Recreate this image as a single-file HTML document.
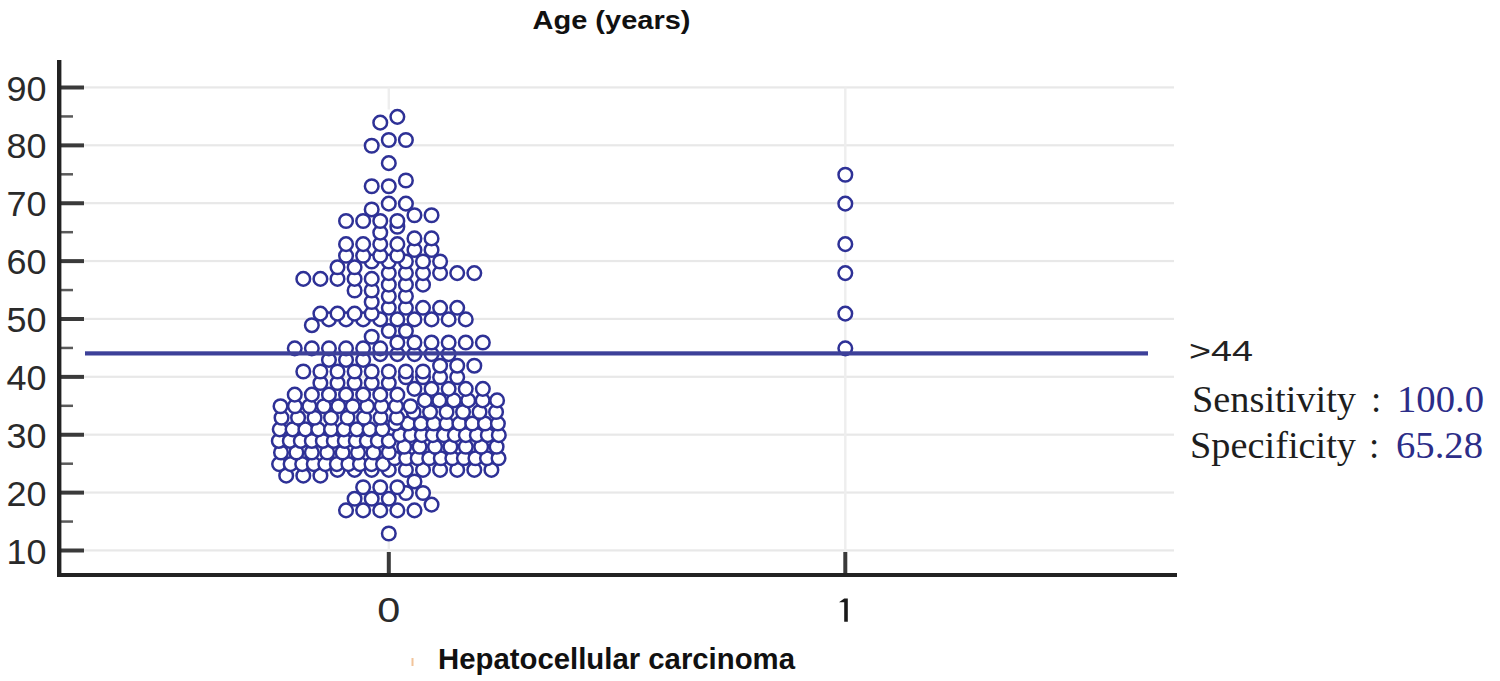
<!DOCTYPE html>
<html><head><meta charset="utf-8"><style>
html,body{margin:0;padding:0;background:#fff;}
body{width:1500px;height:681px;overflow:hidden;}
svg{display:block;}
#wrap{width:1500px;height:681px;}
</style></head><body><div id="wrap">
<svg width="1500" height="681" viewBox="0 0 1500 681">
<rect x="61" y="549.30" width="1113" height="2.2" fill="#e8e8e8"/>
<rect x="61" y="491.43" width="1113" height="2.2" fill="#e8e8e8"/>
<rect x="61" y="433.55" width="1113" height="2.2" fill="#e8e8e8"/>
<rect x="61" y="375.68" width="1113" height="2.2" fill="#e8e8e8"/>
<rect x="61" y="317.80" width="1113" height="2.2" fill="#e8e8e8"/>
<rect x="61" y="259.93" width="1113" height="2.2" fill="#e8e8e8"/>
<rect x="61" y="202.05" width="1113" height="2.2" fill="#e8e8e8"/>
<rect x="61" y="144.18" width="1113" height="2.2" fill="#e8e8e8"/>
<rect x="61" y="86.30" width="1113" height="2.2" fill="#e8e8e8"/>
<rect x="387.60" y="87.50" width="2.4" height="22" fill="#eeeeee"/>
<rect x="387.60" y="541" width="2.4" height="11" fill="#eeeeee"/>
<rect x="844.10" y="87.50" width="2.4" height="464.50" fill="#eeeeee"/>
<rect x="386.80" y="552" width="4" height="23" fill="#3a3a3a"/>
<rect x="843.30" y="552" width="4" height="23" fill="#3a3a3a"/>
<rect x="59" y="548.50" width="25" height="4" fill="#3a3a3a"/>
<rect x="59" y="490.62" width="25" height="4" fill="#3a3a3a"/>
<rect x="59" y="432.75" width="25" height="4" fill="#3a3a3a"/>
<rect x="59" y="374.88" width="25" height="4" fill="#3a3a3a"/>
<rect x="59" y="317.00" width="25" height="4" fill="#3a3a3a"/>
<rect x="59" y="259.12" width="25" height="4" fill="#3a3a3a"/>
<rect x="59" y="201.25" width="25" height="4" fill="#3a3a3a"/>
<rect x="59" y="143.38" width="25" height="4" fill="#3a3a3a"/>
<rect x="59" y="85.50" width="25" height="4" fill="#3a3a3a"/>
<rect x="59" y="520.31" width="14" height="2.5" fill="#5a5a5a"/>
<rect x="59" y="462.44" width="14" height="2.5" fill="#5a5a5a"/>
<rect x="59" y="404.56" width="14" height="2.5" fill="#5a5a5a"/>
<rect x="59" y="346.69" width="14" height="2.5" fill="#5a5a5a"/>
<rect x="59" y="288.81" width="14" height="2.5" fill="#5a5a5a"/>
<rect x="59" y="230.94" width="14" height="2.5" fill="#5a5a5a"/>
<rect x="59" y="173.06" width="14" height="2.5" fill="#5a5a5a"/>
<rect x="59" y="115.19" width="14" height="2.5" fill="#5a5a5a"/>
<rect x="57" y="60" width="4.4" height="517" fill="#222"/>
<rect x="57" y="573" width="1120" height="4" fill="#222"/>
<text x="46.5" y="563.50" text-anchor="end" textLength="40" lengthAdjust="spacingAndGlyphs" font-family="Liberation Sans" font-size="35.5" fill="#2a2a2a">10</text>
<text x="46.5" y="505.62" text-anchor="end" textLength="40" lengthAdjust="spacingAndGlyphs" font-family="Liberation Sans" font-size="35.5" fill="#2a2a2a">20</text>
<text x="46.5" y="447.75" text-anchor="end" textLength="40" lengthAdjust="spacingAndGlyphs" font-family="Liberation Sans" font-size="35.5" fill="#2a2a2a">30</text>
<text x="46.5" y="389.88" text-anchor="end" textLength="40" lengthAdjust="spacingAndGlyphs" font-family="Liberation Sans" font-size="35.5" fill="#2a2a2a">40</text>
<text x="46.5" y="332.00" text-anchor="end" textLength="40" lengthAdjust="spacingAndGlyphs" font-family="Liberation Sans" font-size="35.5" fill="#2a2a2a">50</text>
<text x="46.5" y="274.12" text-anchor="end" textLength="40" lengthAdjust="spacingAndGlyphs" font-family="Liberation Sans" font-size="35.5" fill="#2a2a2a">60</text>
<text x="46.5" y="216.25" text-anchor="end" textLength="40" lengthAdjust="spacingAndGlyphs" font-family="Liberation Sans" font-size="35.5" fill="#2a2a2a">70</text>
<text x="46.5" y="158.38" text-anchor="end" textLength="40" lengthAdjust="spacingAndGlyphs" font-family="Liberation Sans" font-size="35.5" fill="#2a2a2a">80</text>
<text x="46.5" y="100.50" text-anchor="end" textLength="40" lengthAdjust="spacingAndGlyphs" font-family="Liberation Sans" font-size="35.5" fill="#2a2a2a">90</text>
<text x="388.8" y="621.5" text-anchor="middle" textLength="23" lengthAdjust="spacingAndGlyphs" font-family="Liberation Sans" font-size="35.5" fill="#2a2a2a">0</text>
<path d="M844.2 598.5h3.6v23.3h-3.6zM839 602.2l5.2-3.7v3.7z" fill="#1a1a1a"/>
<g fill="#fff" stroke="#2e3196" stroke-width="2.5"><circle cx="388.80" cy="533.54" r="6.8"/><circle cx="346.05" cy="510.39" r="6.8"/><circle cx="363.15" cy="510.39" r="6.8"/><circle cx="380.25" cy="510.39" r="6.8"/><circle cx="397.35" cy="510.39" r="6.8"/><circle cx="414.45" cy="510.39" r="6.8"/><circle cx="431.55" cy="504.60" r="6.8"/><circle cx="354.60" cy="498.81" r="6.8"/><circle cx="371.70" cy="498.81" r="6.8"/><circle cx="388.80" cy="498.81" r="6.8"/><circle cx="405.90" cy="493.02" r="6.8"/><circle cx="423.00" cy="493.02" r="6.8"/><circle cx="363.15" cy="487.24" r="6.8"/><circle cx="380.25" cy="487.24" r="6.8"/><circle cx="397.35" cy="487.24" r="6.8"/><circle cx="414.45" cy="481.45" r="6.8"/><circle cx="286.20" cy="475.66" r="6.8"/><circle cx="303.30" cy="475.66" r="6.8"/><circle cx="320.40" cy="475.66" r="6.8"/><circle cx="337.50" cy="469.88" r="6.8"/><circle cx="354.60" cy="469.88" r="6.8"/><circle cx="371.70" cy="469.88" r="6.8"/><circle cx="388.80" cy="469.88" r="6.8"/><circle cx="405.90" cy="469.88" r="6.8"/><circle cx="423.00" cy="469.88" r="6.8"/><circle cx="440.10" cy="469.88" r="6.8"/><circle cx="457.20" cy="469.88" r="6.8"/><circle cx="474.30" cy="469.88" r="6.8"/><circle cx="491.40" cy="469.88" r="6.8"/><circle cx="279.07" cy="464.09" r="6.8"/><circle cx="290.62" cy="464.09" r="6.8"/><circle cx="302.18" cy="464.09" r="6.8"/><circle cx="313.73" cy="464.09" r="6.8"/><circle cx="325.27" cy="464.09" r="6.8"/><circle cx="336.82" cy="464.09" r="6.8"/><circle cx="348.38" cy="464.09" r="6.8"/><circle cx="359.93" cy="464.09" r="6.8"/><circle cx="371.48" cy="464.09" r="6.8"/><circle cx="383.03" cy="464.09" r="6.8"/><circle cx="394.57" cy="458.30" r="6.8"/><circle cx="406.12" cy="458.30" r="6.8"/><circle cx="417.68" cy="458.30" r="6.8"/><circle cx="429.23" cy="458.30" r="6.8"/><circle cx="440.78" cy="458.30" r="6.8"/><circle cx="452.33" cy="458.30" r="6.8"/><circle cx="463.88" cy="458.30" r="6.8"/><circle cx="475.43" cy="458.30" r="6.8"/><circle cx="486.98" cy="458.30" r="6.8"/><circle cx="498.53" cy="458.30" r="6.8"/><circle cx="281.00" cy="452.51" r="6.8"/><circle cx="296.40" cy="452.51" r="6.8"/><circle cx="311.80" cy="452.51" r="6.8"/><circle cx="327.20" cy="452.51" r="6.8"/><circle cx="342.60" cy="452.51" r="6.8"/><circle cx="358.00" cy="452.51" r="6.8"/><circle cx="373.40" cy="452.51" r="6.8"/><circle cx="388.80" cy="452.51" r="6.8"/><circle cx="404.20" cy="446.72" r="6.8"/><circle cx="419.60" cy="446.72" r="6.8"/><circle cx="435.00" cy="446.72" r="6.8"/><circle cx="450.40" cy="446.72" r="6.8"/><circle cx="465.80" cy="446.72" r="6.8"/><circle cx="481.20" cy="446.72" r="6.8"/><circle cx="496.60" cy="446.72" r="6.8"/><circle cx="278.80" cy="440.94" r="6.8"/><circle cx="289.80" cy="440.94" r="6.8"/><circle cx="300.80" cy="440.94" r="6.8"/><circle cx="311.80" cy="440.94" r="6.8"/><circle cx="322.80" cy="440.94" r="6.8"/><circle cx="333.80" cy="440.94" r="6.8"/><circle cx="344.80" cy="440.94" r="6.8"/><circle cx="355.80" cy="440.94" r="6.8"/><circle cx="366.80" cy="440.94" r="6.8"/><circle cx="377.80" cy="440.94" r="6.8"/><circle cx="388.80" cy="440.94" r="6.8"/><circle cx="399.80" cy="435.15" r="6.8"/><circle cx="410.80" cy="435.15" r="6.8"/><circle cx="421.80" cy="435.15" r="6.8"/><circle cx="432.80" cy="435.15" r="6.8"/><circle cx="443.80" cy="435.15" r="6.8"/><circle cx="454.80" cy="435.15" r="6.8"/><circle cx="465.80" cy="435.15" r="6.8"/><circle cx="476.80" cy="435.15" r="6.8"/><circle cx="487.80" cy="435.15" r="6.8"/><circle cx="498.80" cy="435.15" r="6.8"/><circle cx="279.72" cy="429.36" r="6.8"/><circle cx="292.55" cy="429.36" r="6.8"/><circle cx="305.38" cy="429.36" r="6.8"/><circle cx="318.22" cy="429.36" r="6.8"/><circle cx="331.05" cy="429.36" r="6.8"/><circle cx="343.88" cy="429.36" r="6.8"/><circle cx="356.72" cy="429.36" r="6.8"/><circle cx="369.55" cy="429.36" r="6.8"/><circle cx="382.38" cy="429.36" r="6.8"/><circle cx="395.22" cy="423.57" r="6.8"/><circle cx="408.05" cy="423.57" r="6.8"/><circle cx="420.88" cy="423.57" r="6.8"/><circle cx="433.72" cy="423.57" r="6.8"/><circle cx="446.55" cy="423.57" r="6.8"/><circle cx="459.38" cy="423.57" r="6.8"/><circle cx="472.22" cy="423.57" r="6.8"/><circle cx="485.05" cy="423.57" r="6.8"/><circle cx="497.88" cy="423.57" r="6.8"/><circle cx="281.55" cy="417.79" r="6.8"/><circle cx="298.05" cy="417.79" r="6.8"/><circle cx="314.55" cy="417.79" r="6.8"/><circle cx="331.05" cy="417.79" r="6.8"/><circle cx="347.55" cy="417.79" r="6.8"/><circle cx="364.05" cy="417.79" r="6.8"/><circle cx="380.55" cy="417.79" r="6.8"/><circle cx="397.05" cy="417.79" r="6.8"/><circle cx="413.55" cy="412.00" r="6.8"/><circle cx="430.05" cy="412.00" r="6.8"/><circle cx="446.55" cy="412.00" r="6.8"/><circle cx="463.05" cy="412.00" r="6.8"/><circle cx="479.55" cy="412.00" r="6.8"/><circle cx="496.05" cy="412.00" r="6.8"/><circle cx="280.52" cy="406.21" r="6.8"/><circle cx="294.96" cy="406.21" r="6.8"/><circle cx="309.39" cy="406.21" r="6.8"/><circle cx="323.83" cy="406.21" r="6.8"/><circle cx="338.27" cy="406.21" r="6.8"/><circle cx="352.71" cy="406.21" r="6.8"/><circle cx="367.14" cy="406.21" r="6.8"/><circle cx="381.58" cy="406.21" r="6.8"/><circle cx="396.02" cy="406.21" r="6.8"/><circle cx="410.46" cy="406.21" r="6.8"/><circle cx="424.89" cy="400.42" r="6.8"/><circle cx="439.33" cy="400.42" r="6.8"/><circle cx="453.77" cy="400.42" r="6.8"/><circle cx="468.21" cy="400.42" r="6.8"/><circle cx="482.64" cy="400.42" r="6.8"/><circle cx="497.08" cy="400.42" r="6.8"/><circle cx="294.75" cy="394.64" r="6.8"/><circle cx="311.85" cy="394.64" r="6.8"/><circle cx="328.95" cy="394.64" r="6.8"/><circle cx="346.05" cy="394.64" r="6.8"/><circle cx="363.15" cy="394.64" r="6.8"/><circle cx="380.25" cy="394.64" r="6.8"/><circle cx="397.35" cy="394.64" r="6.8"/><circle cx="414.45" cy="388.85" r="6.8"/><circle cx="431.55" cy="388.85" r="6.8"/><circle cx="448.65" cy="388.85" r="6.8"/><circle cx="465.75" cy="388.85" r="6.8"/><circle cx="482.85" cy="388.85" r="6.8"/><circle cx="320.40" cy="383.06" r="6.8"/><circle cx="337.50" cy="383.06" r="6.8"/><circle cx="354.60" cy="383.06" r="6.8"/><circle cx="371.70" cy="383.06" r="6.8"/><circle cx="388.80" cy="383.06" r="6.8"/><circle cx="405.90" cy="377.27" r="6.8"/><circle cx="423.00" cy="377.27" r="6.8"/><circle cx="440.10" cy="377.27" r="6.8"/><circle cx="457.20" cy="377.27" r="6.8"/><circle cx="303.30" cy="371.49" r="6.8"/><circle cx="320.40" cy="371.49" r="6.8"/><circle cx="337.50" cy="371.49" r="6.8"/><circle cx="354.60" cy="371.49" r="6.8"/><circle cx="371.70" cy="371.49" r="6.8"/><circle cx="388.80" cy="371.49" r="6.8"/><circle cx="405.90" cy="371.49" r="6.8"/><circle cx="423.00" cy="371.49" r="6.8"/><circle cx="440.10" cy="365.70" r="6.8"/><circle cx="457.20" cy="365.70" r="6.8"/><circle cx="474.30" cy="365.70" r="6.8"/><circle cx="328.95" cy="359.91" r="6.8"/><circle cx="346.05" cy="359.91" r="6.8"/><circle cx="363.15" cy="359.91" r="6.8"/><circle cx="380.25" cy="354.12" r="6.8"/><circle cx="397.35" cy="354.12" r="6.8"/><circle cx="414.45" cy="354.12" r="6.8"/><circle cx="431.55" cy="354.12" r="6.8"/><circle cx="448.65" cy="354.12" r="6.8"/><circle cx="294.75" cy="348.34" r="6.8"/><circle cx="311.85" cy="348.34" r="6.8"/><circle cx="328.95" cy="348.34" r="6.8"/><circle cx="346.05" cy="348.34" r="6.8"/><circle cx="363.15" cy="348.34" r="6.8"/><circle cx="380.25" cy="348.34" r="6.8"/><circle cx="397.35" cy="342.55" r="6.8"/><circle cx="414.45" cy="342.55" r="6.8"/><circle cx="431.55" cy="342.55" r="6.8"/><circle cx="448.65" cy="342.55" r="6.8"/><circle cx="465.75" cy="342.55" r="6.8"/><circle cx="482.85" cy="342.55" r="6.8"/><circle cx="371.70" cy="336.76" r="6.8"/><circle cx="388.80" cy="330.98" r="6.8"/><circle cx="405.90" cy="330.98" r="6.8"/><circle cx="311.85" cy="325.19" r="6.8"/><circle cx="328.95" cy="319.40" r="6.8"/><circle cx="346.05" cy="319.40" r="6.8"/><circle cx="363.15" cy="319.40" r="6.8"/><circle cx="380.25" cy="319.40" r="6.8"/><circle cx="397.35" cy="319.40" r="6.8"/><circle cx="414.45" cy="319.40" r="6.8"/><circle cx="431.55" cy="319.40" r="6.8"/><circle cx="448.65" cy="319.40" r="6.8"/><circle cx="465.75" cy="319.40" r="6.8"/><circle cx="320.40" cy="313.61" r="6.8"/><circle cx="337.50" cy="313.61" r="6.8"/><circle cx="354.60" cy="313.61" r="6.8"/><circle cx="371.70" cy="313.61" r="6.8"/><circle cx="388.80" cy="307.82" r="6.8"/><circle cx="405.90" cy="307.82" r="6.8"/><circle cx="423.00" cy="307.82" r="6.8"/><circle cx="440.10" cy="307.82" r="6.8"/><circle cx="457.20" cy="307.82" r="6.8"/><circle cx="371.70" cy="302.04" r="6.8"/><circle cx="388.80" cy="296.25" r="6.8"/><circle cx="405.90" cy="296.25" r="6.8"/><circle cx="354.60" cy="290.46" r="6.8"/><circle cx="371.70" cy="290.46" r="6.8"/><circle cx="388.80" cy="284.68" r="6.8"/><circle cx="405.90" cy="284.68" r="6.8"/><circle cx="423.00" cy="284.68" r="6.8"/><circle cx="303.30" cy="278.89" r="6.8"/><circle cx="320.40" cy="278.89" r="6.8"/><circle cx="337.50" cy="278.89" r="6.8"/><circle cx="354.60" cy="278.89" r="6.8"/><circle cx="371.70" cy="278.89" r="6.8"/><circle cx="388.80" cy="273.10" r="6.8"/><circle cx="405.90" cy="273.10" r="6.8"/><circle cx="423.00" cy="273.10" r="6.8"/><circle cx="440.10" cy="273.10" r="6.8"/><circle cx="457.20" cy="273.10" r="6.8"/><circle cx="474.30" cy="273.10" r="6.8"/><circle cx="337.50" cy="267.31" r="6.8"/><circle cx="354.60" cy="267.31" r="6.8"/><circle cx="371.70" cy="261.52" r="6.8"/><circle cx="388.80" cy="261.52" r="6.8"/><circle cx="405.90" cy="261.52" r="6.8"/><circle cx="423.00" cy="261.52" r="6.8"/><circle cx="440.10" cy="261.52" r="6.8"/><circle cx="346.05" cy="255.74" r="6.8"/><circle cx="363.15" cy="255.74" r="6.8"/><circle cx="380.25" cy="255.74" r="6.8"/><circle cx="397.35" cy="255.74" r="6.8"/><circle cx="414.45" cy="249.95" r="6.8"/><circle cx="431.55" cy="249.95" r="6.8"/><circle cx="346.05" cy="244.16" r="6.8"/><circle cx="363.15" cy="244.16" r="6.8"/><circle cx="380.25" cy="244.16" r="6.8"/><circle cx="397.35" cy="244.16" r="6.8"/><circle cx="414.45" cy="238.38" r="6.8"/><circle cx="431.55" cy="238.38" r="6.8"/><circle cx="380.25" cy="232.59" r="6.8"/><circle cx="397.35" cy="226.80" r="6.8"/><circle cx="346.05" cy="221.01" r="6.8"/><circle cx="363.15" cy="221.01" r="6.8"/><circle cx="380.25" cy="221.01" r="6.8"/><circle cx="397.35" cy="221.01" r="6.8"/><circle cx="414.45" cy="215.23" r="6.8"/><circle cx="431.55" cy="215.23" r="6.8"/><circle cx="371.70" cy="209.44" r="6.8"/><circle cx="388.80" cy="203.65" r="6.8"/><circle cx="405.90" cy="203.65" r="6.8"/><circle cx="371.70" cy="186.29" r="6.8"/><circle cx="388.80" cy="186.29" r="6.8"/><circle cx="405.90" cy="180.50" r="6.8"/><circle cx="388.80" cy="163.14" r="6.8"/><circle cx="371.70" cy="145.78" r="6.8"/><circle cx="388.80" cy="139.99" r="6.8"/><circle cx="405.90" cy="139.99" r="6.8"/><circle cx="380.25" cy="122.63" r="6.8"/><circle cx="397.35" cy="116.84" r="6.8"/><circle cx="845.30" cy="348.34" r="6.8"/><circle cx="845.30" cy="313.61" r="6.8"/><circle cx="845.30" cy="273.10" r="6.8"/><circle cx="845.30" cy="244.16" r="6.8"/><circle cx="845.30" cy="203.65" r="6.8"/><circle cx="845.30" cy="174.71" r="6.8"/></g>
<rect x="85" y="351.3" width="1063" height="4.2" fill="#3d4099"/>
<text x="532.5" y="28.6" textLength="158" lengthAdjust="spacingAndGlyphs" font-family="Liberation Sans" font-weight="bold" font-size="26.5" fill="#111">Age (years)</text>
<rect x="411.5" y="658" width="2" height="8" fill="#f2c49a"/>
<text x="438" y="669.2" textLength="357" lengthAdjust="spacingAndGlyphs" font-family="Liberation Sans" font-weight="bold" font-size="30" fill="#111">Hepatocellular carcinoma</text>
<text x="1189" y="361" textLength="64" lengthAdjust="spacingAndGlyphs" font-family="Liberation Sans" font-size="29.5" fill="#222">&gt;44</text>
<text x="1192" y="412.1" textLength="164" lengthAdjust="spacingAndGlyphs" font-family="Liberation Serif" font-size="37" fill="#1e1e1e">Sensitivity</text>
<text x="1371" y="412.1" font-family="Liberation Serif" font-size="37" fill="#1e1e1e">:</text>
<text x="1397" y="412.1" textLength="87" lengthAdjust="spacingAndGlyphs" font-family="Liberation Serif" font-size="37" fill="#2c2d88">100.0</text>
<text x="1190" y="457.7" textLength="166" lengthAdjust="spacingAndGlyphs" font-family="Liberation Serif" font-size="37" fill="#1e1e1e">Specificity</text>
<text x="1369" y="457.7" font-family="Liberation Serif" font-size="37" fill="#1e1e1e">:</text>
<text x="1396" y="457.7" textLength="87" lengthAdjust="spacingAndGlyphs" font-family="Liberation Serif" font-size="37" fill="#2c2d88">65.28</text>
</svg></div>
</body></html>
